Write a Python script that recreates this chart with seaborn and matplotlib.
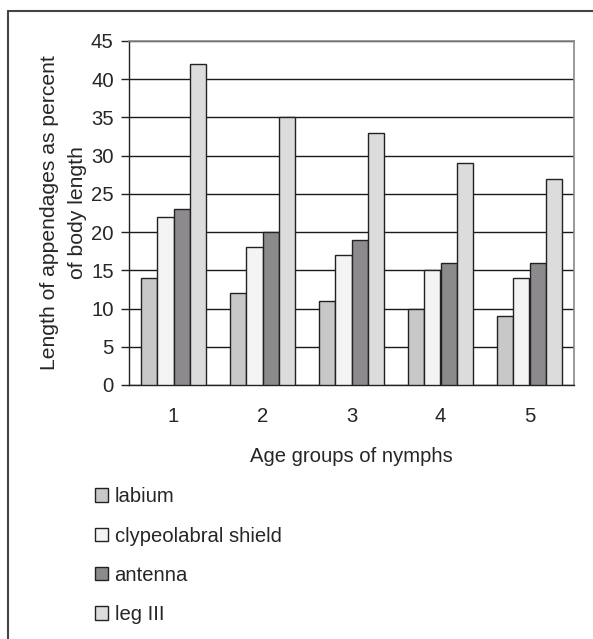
import numpy as np
import pandas as pd
import matplotlib
matplotlib.use("Agg")
import matplotlib.pyplot as plt
from matplotlib.lines import Line2D
from matplotlib.patches import Patch
import seaborn as sns

# data
groups = ["1", "2", "3", "4", "5"]
series = ["labium", "clypeolabral shield", "antenna", "leg III"]
labium = [14, 12, 11, 10, 9]
clypeolabral = [22, 18, 17, 15, 14]
antenna = [23, 20, 19, 16, 16]
leg3 = [42, 35, 33, 29, 27]
colors = ["#c8c8c8", "#f4f4f4", "#8c8a8c", "#dcdcdc"]

rows = []
for name, vals in zip(series, [labium, clypeolabral, antenna, leg3]):
    for g, v in zip(groups, vals):
        rows.append({"group": g, "series": name, "value": v})
df = pd.DataFrame(rows)

sns.set_style("white")
plt.rcParams["font.family"] = ["Liberation Sans", "DejaVu Sans"]
FS = 14.6
plt.rcParams["font.size"] = FS

W, H = 593, 639
fig = plt.figure(figsize=(W / 100, H / 100), dpi=100)
ax = fig.add_axes([129 / W, 1 - 385 / H, (574 - 129) / W, (385 - 41) / H])

sns.barplot(data=df, x="group", y="value", hue="series", order=groups,
            hue_order=series, palette=colors, width=0.74, gap=0,
            edgecolor="#222222", linewidth=1, saturation=1, errorbar=None,
            legend=False, ax=ax, zorder=3)

ax.set_xlim(-0.5, 4.5)
ax.set_ylim(0, 45)
ax.set_yticks(np.arange(0, 46, 5))
ax.yaxis.grid(True, color="#1a1a1a", linewidth=1)
ax.set_axisbelow(True)

# category labels at centers, tick marks at boundaries
ax.tick_params(axis="x", which="major", length=0, pad=16, labelsize=FS)
ax.set_xticks(np.arange(-0.5, 5, 1), minor=True)
ax.tick_params(axis="x", which="minor", length=7, width=1, color="#222222",
               direction="out")
ax.tick_params(axis="y", length=6, width=1, color="#222222", direction="out",
               left=True, pad=5, labelsize=FS)

for s in ["left", "bottom"]:
    ax.spines[s].set_color("#222222")
    ax.spines[s].set_linewidth(1)
for s in ["top", "right"]:
    ax.spines[s].set_color("#888888")
    ax.spines[s].set_linewidth(1.2)

ax.set_xlabel("Age groups of nymphs", fontsize=FS, labelpad=15)
ax.set_ylabel("Length of appendages as percent\nof body length", fontsize=15.2,
              labelpad=3, linespacing=1.6)

handles = [Patch(facecolor=c, edgecolor="#222222", linewidth=1) for c in colors]
fig.legend(handles, series, loc="upper left",
           bbox_to_anchor=(77 / W, 1 - 469 / H), frameon=False,
           handlelength=0.65, handleheight=0.65, handletextpad=0.3,
           labelspacing=1.0, fontsize=FS)

# outer frame
fig.add_artist(Line2D([8 / W, 1], [1 - 11 / H, 1 - 11 / H],
                      transform=fig.transFigure, color="#444444", lw=1.5))
fig.add_artist(Line2D([8 / W, 8 / W], [0, 1 - 11 / H],
                      transform=fig.transFigure, color="#444444", lw=1.5))

fig.savefig("out.png", dpi=100)
